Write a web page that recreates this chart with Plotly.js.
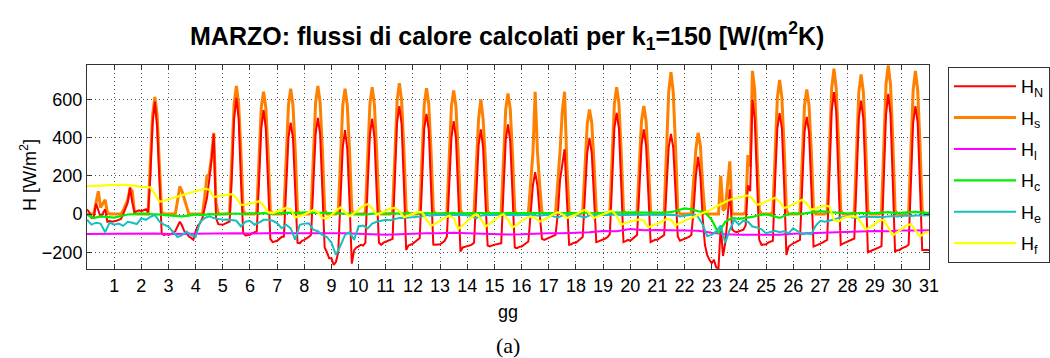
<!DOCTYPE html>
<html>
<head>
<meta charset="utf-8">
<script src="https://cdn.plot.ly/plotly-3.0.1.min.js"></script>
<style>
  html, body { margin: 0; padding: 0; background: #fff; }
  #chart { width: 1050px; height: 358px; }
</style>
</head>
<body>
<div id="chart"></div>
<script>
// Heat fluxes for March, k1 = 150 W/(m2K). Time axis in days (0..31).
// H_N and H_s sampled every 2 h (12 values per day), H_e and H_f every 4 h,
// H_c every 6 h, H_l every 12 h; each list ends with the value at day 31.

const dayTicks = [1,2,3,4,5,6,7,8,9,10,11,12,13,14,15,16,17,18,19,20,21,22,23,24,25,26,27,28,29,30,31];
const yTicks = [-200, 0, 200, 400, 600];

// H_s (solar), 2-hourly: 0h 2h 4h 6h 8h 10h 12h 14h 16h 18h 20h 22h
const hS = [
  0,0,0,0,60,120,35,55,75,10,0,0,
  0,0,0,0,20,45,75,135,120,5,0,0,
  0,0,0,0,280,520,614,520,250,10,0,0,
  0,0,0,0,70,145,120,80,40,0,0,0,
  0,0,0,0,90,200,210,300,426,60,0,0,
  0,0,0,10,330,580,672,580,330,20,0,0,
  0,0,0,10,320,560,642,560,320,20,0,0,
  0,0,0,10,330,570,658,570,330,20,0,0,
  0,0,0,10,335,585,672,585,335,20,0,0,
  0,0,0,10,330,570,658,570,330,20,0,0,
  0,0,0,10,335,580,666,570,320,20,0,0,
  0,0,0,10,340,595,686,595,340,20,0,0,
  0,0,0,10,330,575,660,575,330,20,0,0,
  0,0,0,10,325,565,649,565,320,20,0,0,
  0,0,0,10,290,500,602,500,290,15,0,0,
  0,0,0,10,310,550,633,550,310,15,0,0,
  0,0,0,5,150,320,642,330,150,10,0,0,
  0,0,0,5,150,330,540,642,260,10,0,0,
  0,0,0,10,270,470,549,480,270,15,0,0,
  0,0,0,10,330,580,666,580,330,20,0,0,
  0,0,0,10,280,490,567,490,280,15,0,0,
  0,0,0,10,360,640,745,640,360,20,0,0,
  0,0,0,5,160,340,426,360,150,5,0,0,
  0,0,0,0,200,20,30,150,277,0,0,0,
  0,0,0,10,310,250,751,650,370,20,0,0,
  0,0,0,10,350,610,703,610,350,20,0,0,
  0,0,0,10,330,570,654,570,330,20,0,0,
  0,0,0,10,380,660,763,660,380,20,0,0,
  0,0,0,10,370,640,733,640,370,20,0,0,
  0,0,0,10,390,680,780,680,390,20,0,0,
  0,0,0,10,375,650,751,650,375,20,0,0,
  0
];

// H_N (net), 2-hourly
const hN = [
  25,10,-20,-15,55,20,-15,5,25,-40,-35,-40,
  -39,-35,-30,-25,0,30,60,140,60,10,15,20,
  15,20,25,10,200,480,590,450,150,-100,-110,-105,
  -109,-105,-100,-90,-60,-40,-60,-90,-100,-118,-125,-135,
  -91,-60,-47,-20,32,84,180,280,420,-20,-53,-55,
  -56,-50,-45,-39,200,500,610,500,180,-100,-112,-110,
  -108,-100,-95,-91,170,450,545,450,160,-130,-147,-145,
  -140,-130,-120,-118,130,400,480,400,120,-150,-153,-140,
  -135,-128,-120,-109,150,420,505,420,120,-175,-200,-232,
  -232,-267,-250,-200,80,350,440,340,60,-260,-190,-175,
  -170,-161,-165,-150,150,420,500,400,110,-150,-161,-150,
  -145,-140,-135,-130,180,480,566,470,160,-188,-165,-161,
  -155,-145,-135,-126,160,450,526,440,140,-160,-161,-158,
  -158,-150,-140,-118,130,400,488,400,110,-196,-175,-170,
  -168,-165,-160,-150,100,360,444,350,80,-165,-170,-163,
  -160,-158,-155,-153,120,390,470,380,100,-175,-179,-172,
  -170,-160,-150,-144,0,150,220,150,0,-130,-135,-130,
  -128,-120,-115,-109,0,180,260,340,80,-161,-158,-150,
  -150,-140,-130,-120,100,320,400,320,90,-147,-143,-138,
  -135,-128,-120,-105,170,450,531,450,160,-147,-142,-135,
  -140,-130,-125,-110,120,360,444,360,110,-147,-140,-135,
  -135,-128,-120,-110,130,350,420,350,120,-118,-140,-135,
  -130,-125,-120,-110,20,200,300,200,-20,-161,-214,-240,
  -258,-240,-280,-284,-60,-220,-150,-20,130,-80,-91,-95,
  -91,-85,-82,-60,150,120,600,500,170,-135,-161,-158,
  -158,-150,-145,-140,170,450,530,450,150,-214,-170,-160,
  -153,-148,-142,-135,150,430,510,430,140,-170,-165,-160,
  -158,-150,-142,-135,200,540,640,540,180,-161,-155,-150,
  -147,-140,-135,-128,180,500,595,500,170,-200,-195,-190,
  -188,-180,-175,-168,180,520,630,520,170,-196,-190,-188,
  -180,-175,-170,-160,160,480,566,480,150,-188,-188,-188,
  -188
];

// H_l, every 12 h
const hL = [
  -104,-103, -103,-102, -103,-102, -104,-103, -101,-102, -100,-100, -102,-100, -99,-100,
  -100,-98, -101,-100, -103,-105, -108,-106, -102,-100, -100,-98, -100,-102, -106,-107,
  -106,-103, -100,-101, -99,-95, -89,-90, -78,-85, -84,-86, -86,-88, -98,-106,
  -108,-108, -109,-108, -103,-100, -98,-96, -93,-90, -89,-90, -86,-86,
  -85
];

// H_c, every 6 h
const hC = [
  -4,-21,-12,-15, -18,-10,-2,0, 2,0,0,-3, -7,-10,-12,-8, -2,-5,0,-2, 0,2,3,0,
  4,3,5,2, 5,7,8,5, 9,8,7,5, 5,6,5,2, 0,-2,3,5, 2,3,5,4, 3,5,5,3, 4,6,5,4,
  3,5,5,4, 3,4,5,5, 4,5,6,5, 5,6,7,5, 5,6,7,6, 7,8,9,7, 8,9,8,7, 6,8,10,20,
  30,25,15,10, -30,-100,-40,-20, -25,-20,-15,-5, 0,-10,-20,-5, 5,0,5,10,
  15,12,10,5, 3,5,5,3, 5,8,10,5, 8,10,12,8,
  6
];

// H_e, every 4 h
const hE = [
  -30,-55,-45,-50,-95,-45,
  -56,-50,-62,-40,-45,-52,
  -21,-30,-15,-5,-39,-55,
  -65,-95,-120,-110,-91,-110,
  -120,-40,-21,-12,-21,-25,
  -30,-28,-30,-35,-65,-40,
  -35,-56,-45,-30,-30,-35,
  -47,-74,-56,-75,-135,-56,
  -50,-48,-82,-90,-109,-120,
  -150,-214,-165,-109,-95,-135,
  -65,-60,-75,-50,-40,-35,
  -30,-32,-25,-20,-21,-18,
  -15,-12,-12,-5,-8,-5,
  -3,-5,-8,-4,-6,-3,
  -5,-10,-21,-8,-5,-4,
  -3,-6,-5,-3,-4,-6,
  -5,-4,-3,-6,-8,-5,
  -4,-12,-18,-8,-5,-4,
  -6,-10,-18,-6,-4,-3,
  -3,-5,-4,-2,-6,-4,
  -3,-2,-5,-3,-4,-3,
  -3,-5,-3,-2,-5,-12,
  -10,-5,-2,-15,-55,-115,
  -109,-90,-60,-150,-82,-30,
  -55,-35,-40,-65,-70,-80,
  -100,-95,-88,-95,-90,-100,
  -75,-90,-105,-100,-105,-60,
  -35,-40,-35,-28,-20,-15,
  -12,-18,-21,-15,-12,-15,
  -15,-18,-15,-12,-10,-12,
  -10,-8,-10,-7,-8,-7,
  -6
];

// H_f, every 4 h
const hF = [
  146,148,149,150,151,152,
  153,154,154,152,151,147,
  143,142,140,105,65,70,
  78,86,92,98,106,113,
  120,126,133,128,89,94,
  98,101,105,85,48,50,
  56,62,67,45,10,5,
  12,22,33,25,-18,-12,
  -2,10,22,10,-20,-22,
  -5,18,35,10,-12,5,
  25,42,53,30,-4,5,
  18,30,33,15,-15,-8,
  0,10,12,-30,-62,-50,
  -35,-20,-8,-20,-78,-60,
  -35,-15,0,-25,-65,-50,
  -30,-12,0,-30,-70,-55,
  -35,-20,-12,-20,-39,-30,
  -15,0,10,0,-21,-12,
  -2,12,22,5,-20,-10,
  0,10,18,-10,-56,-45,
  -38,-32,-28,-35,-70,-60,
  -50,-40,-25,-30,-60,-45,
  -35,-25,-15,-5,5,15,
  25,40,52,62,75,82,
  88,94,98,80,49,55,
  65,75,86,65,32,40,
  52,64,75,55,23,30,
  38,44,40,-30,-40,-20,
  -15,-12,-12,-45,-80,-70,
  -50,-35,-30,-75,-112,-95,
  -75,-60,-53,-85,-117,-100,
  -91
];

// sample times (days) for a series with n samples per day
function sampleTimes(values, perDay) {
  return values.map((_, i) => i / perDay);
}

const series = [
  { name: 'H<sub>s</sub>', y: hS, perDay: 12, color: '#ff8000', width: 3,   rank: 2 },
  { name: 'H<sub>N</sub>', y: hN, perDay: 12, color: '#ff0000', width: 2,   rank: 1 },
  { name: 'H<sub>l</sub>', y: hL, perDay: 2,  color: '#ff00ff', width: 2,   rank: 3 },
  { name: 'H<sub>c</sub>', y: hC, perDay: 4,  color: '#00ee00', width: 2.2, rank: 4 },
  { name: 'H<sub>e</sub>', y: hE, perDay: 6,  color: '#17bfbf', width: 2,   rank: 5 },
  { name: 'H<sub>f</sub>', y: hF, perDay: 6,  color: '#ffff00', width: 2.2, rank: 6 }
];

const traces = series.map(s => ({
  type: 'scatter',
  mode: 'lines',
  x: sampleTimes(s.y, s.perDay),
  y: s.y,
  name: s.name,
  legendgroup: s.name,
  legendrank: s.rank,
  line: { color: s.color, width: s.width }
}));

const axisCommon = {
  showline: true, linecolor: '#333', linewidth: 1, mirror: 'ticks',
  ticks: 'inside', ticklen: 5, tickcolor: '#333',
  showgrid: true, gridcolor: '#555', gridwidth: 1, griddash: '1px,3px',
  zeroline: false,
  tickfont: { size: 18, color: '#000' }
};

const layout = {
  width: 1050, height: 358,
  margin: { l: 87, r: 121, t: 65, b: 89 },
  paper_bgcolor: '#fff', plot_bgcolor: '#fff',
  font: { family: 'Liberation Sans, Arial, sans-serif', color: '#000' },
  title: {
    text: 'MARZO: flussi di calore calcolati per k<sub>1</sub>=150 [W/(m<sup>2</sup>K)',
    font: { size: 25, weight: 'bold' },
    x: 0.483, xanchor: 'center', y: 0.9, yanchor: 'middle'
  },
  xaxis: Object.assign({}, axisCommon, {
    range: [0, 31], tickmode: 'array', tickvals: dayTicks,
    title: { text: 'gg', font: { size: 18 }, standoff: 10 }
  }),
  yaxis: Object.assign({}, axisCommon, {
    range: [-288, 782], tickmode: 'array', tickvals: yTicks
  }),
  showlegend: true,
  legend: {
    xref: 'container', x: 948 / 1050, xanchor: 'left',
    yref: 'container', y: 1 - 67 / 358, yanchor: 'top',
    maxheight: 300,
    bordercolor: '#333', borderwidth: 1, bgcolor: '#fff',
    itemwidth: 62, tracegroupgap: 5, traceorder: 'grouped',
    font: { size: 18 }
  },
  annotations: [
    {
      text: 'H [W/m<sup>2</sup>]', textangle: -90,
      xref: 'paper', yref: 'paper', x: (28 - 87) / 842, y: (269 - 175) / 204,
      xanchor: 'center', yanchor: 'middle', showarrow: false,
      font: { size: 18 }
    },
    {
      text: '(a)', xref: 'paper', yref: 'paper', x: 0.5, y: -0.377,
      xanchor: 'center', yanchor: 'middle', showarrow: false,
      font: { family: 'Liberation Serif, DejaVu Serif, serif', size: 22 }
    }
  ]
};

Plotly.newPlot('chart', traces, layout, { displayModeBar: false, staticPlot: true });
</script>
</body>
</html>
